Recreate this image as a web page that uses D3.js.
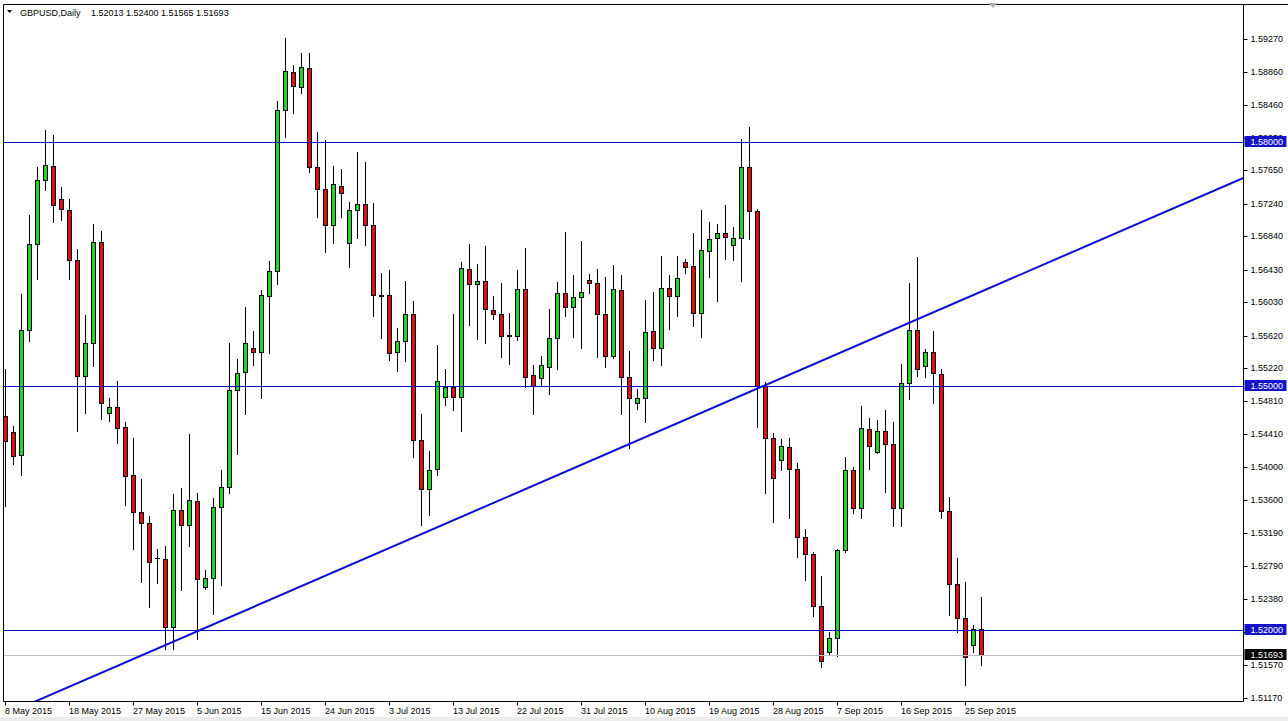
<!DOCTYPE html>
<html><head><meta charset="utf-8">
<script src="https://cdn.jsdelivr.net/npm/d3@7"></script>
<style>
html,body{margin:0;padding:0;background:#fff;overflow:hidden}
svg{display:block}
text{font-family:"Liberation Sans",Arial,sans-serif;font-size:9px}
</style></head><body>
<svg id="c" width="1288" height="721"></svg>
<script>
// ---- data ----
const symbol = "GBPUSD,Daily";
const lastQuote = ["1.52013","1.52400","1.51565","1.51693"];
const opens = [
1.54636,1.54432,1.5415,1.55691,1.56741,1.57532,1.57705,1.57296,1.57168,1.56546,
1.55123,1.55527,1.56768,1.54668,1.54745,1.54496,1.53904,1.53454,1.53318,1.52881,
1.52875,1.52039,1.53473,1.53292,1.53583,1.52525,1.52642,1.53511,1.53754,1.54955,
1.55173,1.55473,1.55416,1.56105,1.56412,1.58389,1.58855,1.58673,1.58906,1.57689,
1.57419,1.5698,1.57463,1.56755,1.5716,1.57234,1.5698,1.56115,1.56115,1.55414,
1.5555,1.55882,1.54336,1.5373,1.53976,1.54868,1.54991,1.54868,1.56439,1.56251,
1.56287,1.55935,1.55889,1.55623,1.55618,1.56189,1.55132,1.55095,1.55237,1.55587,
1.5614,1.55975,1.56098,1.563,1.56263,1.55882,1.55369,1.5618,1.55114,1.54795,
1.54849,1.55673,1.55464,1.56201,1.5611,1.56521,1.56476,1.55901,1.56664,1.56816,
1.56878,1.5673,1.56817,1.57693,1.57157,1.54998,1.54364,1.54088,1.54255,1.53978,
1.53142,1.52935,1.5229,1.51727,1.51903,1.5298,1.53968,1.53499,1.54475,1.54192,
1.5445,1.54283,1.53496,1.55041,1.55685,1.5525,1.55414,1.55148,1.53467,1.52562,
1.52144,1.51815,1.52013];
const highs = [
1.55204,1.54509,1.56128,1.571,1.57692,1.58145,1.58083,1.57446,1.57296,1.56682,
1.55878,1.56991,1.569,1.54855,1.55059,1.54555,1.54364,1.53854,1.534,1.52996,
1.53035,1.53667,1.53749,1.54412,1.5369,1.52734,1.53618,1.53968,1.55527,1.55333,
1.55974,1.55673,1.56178,1.56533,1.58501,1.59278,1.58947,1.59093,1.59095,1.58127,
1.58025,1.57705,1.57668,1.57259,1.57881,1.57758,1.57254,1.56386,1.56426,1.55713,
1.56287,1.56049,1.54656,1.54204,1.55504,1.55205,1.55885,1.56528,1.56746,1.565,
1.56721,1.56107,1.5627,1.55894,1.56426,1.56693,1.55258,1.55369,1.5595,1.56275,
1.5689,1.56365,1.56783,1.56373,1.56439,1.56344,1.56488,1.56365,1.55434,1.54963,
1.56057,1.5616,1.56598,1.56365,1.56598,1.56562,1.56885,1.57164,1.57013,1.56988,
1.57226,1.56959,1.58036,1.58181,1.57178,1.55045,1.54422,1.54352,1.54364,1.54057,
1.53244,1.52958,1.52659,1.51981,1.53002,1.54123,1.54004,1.5476,1.54607,1.54582,
1.54705,1.54554,1.55271,1.5627,1.56583,1.55451,1.5568,1.55209,1.53631,1.52881,
1.52586,1.52061,1.524];
const lows = [
1.53524,1.54036,1.53909,1.55559,1.56318,1.57409,1.57014,1.57046,1.5631,1.54445,
1.54673,1.55241,1.54591,1.54568,1.54295,1.53537,1.52991,1.52591,1.52281,1.52583,
1.51772,1.51772,1.52487,1.53035,1.51893,1.525,1.52195,1.52559,1.53681,1.54168,
1.54653,1.55261,1.54857,1.55401,1.56252,1.58063,1.58354,1.58606,1.57631,1.57074,
1.56651,1.56755,1.57074,1.56467,1.56816,1.56734,1.55864,1.55587,1.55317,1.55188,
1.55311,1.54123,1.53291,1.53414,1.53906,1.54766,1.54705,1.5445,1.5575,1.55578,
1.55525,1.5582,1.5536,1.55271,1.55566,1.54991,1.54652,1.55004,1.54898,1.55205,
1.55861,1.55606,1.55471,1.5614,1.55361,1.55237,1.55341,1.54656,1.54234,1.54713,
1.54561,1.5532,1.55258,1.55701,1.55861,1.56393,1.55738,1.55606,1.56337,1.56049,
1.56562,1.56549,1.5629,1.56805,1.54496,1.53683,1.53331,1.53968,1.53376,1.52892,
1.52619,1.52176,1.51551,1.51705,1.51682,1.5296,1.53441,1.53376,1.53978,1.5418,
1.537,1.53279,1.53279,1.54844,1.55123,1.55107,1.54795,1.53373,1.52184,1.51979,
1.51323,1.51733,1.51565];
const closes = [
1.54319,1.54137,1.55691,1.56741,1.57532,1.57714,1.57228,1.57173,1.56546,1.55123,
1.55527,1.56768,1.54786,1.54745,1.54486,1.53896,1.53454,1.53318,1.52836,1.52885,
1.52039,1.53473,1.53292,1.53593,1.52622,1.52642,1.53511,1.53754,1.54955,1.55159,
1.55523,1.55416,1.5612,1.56412,1.58389,1.58874,1.58685,1.58919,1.57689,1.57419,
1.5698,1.5748,1.57369,1.5716,1.57234,1.5698,1.56115,1.5611,1.55401,1.5555,
1.55882,1.54336,1.5373,1.53967,1.55065,1.54991,1.54868,1.56447,1.56251,1.56287,
1.55943,1.55889,1.55618,1.5562,1.56189,1.55114,1.55004,1.55255,1.55587,1.5614,
1.55975,1.56098,1.56156,1.56263,1.55882,1.55369,1.56193,1.55114,1.54849,1.54849,
1.5566,1.55464,1.56201,1.5611,1.56324,1.56467,1.55901,1.56672,1.56804,1.56878,
1.56836,1.56816,1.57697,1.57157,1.54998,1.54356,1.53864,1.54263,1.53978,1.53142,
1.52935,1.5229,1.51617,1.51903,1.5298,1.53968,1.53499,1.54487,1.54263,1.5445,
1.54283,1.53496,1.55041,1.55685,1.55205,1.55414,1.55156,1.53467,1.52562,1.52144,
1.51671,1.52008,1.51693];
const levels = [1.58, 1.55, 1.52];
const bid = 1.51693;
const trendIdx = [24, 108];
const trendPrice = [1.51986, 1.55566];
const yTicks = [1.59270,1.58860,1.58460,1.58050,1.57650,1.57240,1.56840,1.56430,1.56030,1.55620,
  1.55220,1.54810,1.54410,1.54000,1.53600,1.53190,1.52790,1.52380,1.51980,1.51570,1.51170];
const xTickLabels = ["8 May 2015","18 May 2015","27 May 2015","5 Jun 2015","15 Jun 2015","24 Jun 2015",
  "3 Jul 2015","13 Jul 2015","22 Jul 2015","31 Jul 2015","10 Aug 2015","19 Aug 2015","28 Aug 2015",
  "7 Sep 2015","16 Sep 2015","25 Sep 2015"];

// ---- calendar (daily bars, Sunday sessions included, no Saturdays) ----
const n = opens.length;
const fmt = d3.timeFormat("%-d %b %Y");
const cats = d3.timeDay.range(new Date(2015,4,8), new Date(2015,10,1))
  .filter(d => d.getDay() !== 6).slice(0, n).map(fmt);
const data = cats.map((c,i) => ({c, o:opens[i], h:highs[i], l:lows[i], cl:closes[i]}));

// ---- layout ----
const W = 1288, H = 721;
const P = {l:3.5, t:4.5, r:1243.5, b:701.5};
const svg = d3.select("#c");
const defs = svg.append("defs");
const x = d3.scaleBand().domain(cats).range([1.5, 1.5 + 8*n]);
const cx = c => x(c) + x.bandwidth()/2;
const y = d3.scaleLinear().domain([1.52, 1.58]).range([630, 142]);
const py = v => Math.round(y(v)) + 0.5;

svg.append("rect").attr("width",W).attr("height",H).attr("fill","#fff");
svg.append("rect").attr("x",0).attr("y",717).attr("width",W).attr("height",4).attr("fill","#ececec");

defs.append("clipPath").attr("id","clip")
  .append("rect").attr("x",P.l+0.5).attr("y",P.t+0.5).attr("width",P.r-P.l-1).attr("height",P.b-P.t-1);

const g = svg.append("g").attr("clip-path","url(#clip)");

// candles
const GREEN = "#1fd81f", RED = "#de1212";
g.selectAll("line.wick").data(data).join("line").attr("class","wick")
  .attr("x1", d=>cx(d.c)).attr("x2", d=>cx(d.c))
  .attr("y1", d=>Math.round(y(d.h))).attr("y2", d=>Math.round(y(d.l))+1)
  .attr("stroke","#000").attr("stroke-width",1);
const bodies = data.filter(d => Math.abs(Math.round(y(d.o)) - Math.round(y(d.cl))) >= 1);
const dojis = data.filter(d => Math.abs(Math.round(y(d.o)) - Math.round(y(d.cl))) < 1);
g.selectAll("rect.body").data(bodies).join("rect").attr("class","body")
  .attr("x", d=>cx(d.c)-2).attr("width",4)
  .attr("y", d=>py(Math.max(d.o,d.cl)))
  .attr("height", d=>Math.round(y(Math.min(d.o,d.cl))) - Math.round(y(Math.max(d.o,d.cl))))
  .attr("fill", d=> d.cl >= d.o ? GREEN : RED)
  .attr("stroke","#000").attr("stroke-width",1);
g.selectAll("line.doji").data(dojis).join("line").attr("class","doji")
  .attr("x1", d=>cx(d.c)-2.5).attr("x2", d=>cx(d.c)+2.5)
  .attr("y1", d=>py(d.o)).attr("y2", d=>py(d.o))
  .attr("stroke","#000");

// horizontal levels and bid line
g.selectAll("line.lvl").data(levels).join("line").attr("class","lvl")
  .attr("x1",P.l).attr("x2",P.r).attr("y1",py).attr("y2",py)
  .attr("stroke","#0a0ac0").attr("stroke-width",1);
g.append("line").attr("x1",P.l).attr("x2",P.r).attr("y1",py(bid)).attr("y2",py(bid))
  .attr("stroke","#c0c0c0");

// trend line (extended across the plot)
const xi = d3.scaleLinear().domain([0, n-1]).range([cx(cats[0]), cx(cats[n-1])]);
const slope = (trendPrice[1]-trendPrice[0])/(trendIdx[1]-trendIdx[0]);
const priceAt = i => trendPrice[0] + slope*(i - trendIdx[0]);
const iL = xi.invert(P.l - 20), iR = xi.invert(P.r + 20);
g.append("line").attr("x1",xi(iL)).attr("y1",y(priceAt(iL))).attr("x2",xi(iR)).attr("y2",y(priceAt(iR)))
  .attr("stroke","#0e0ed2").attr("stroke-width",2);

// frame
svg.append("path").attr("d",`M${P.l},${P.b}V${P.t}H${P.r}V${P.b}H${P.l}`)
  .attr("fill","none").attr("stroke","#000");
svg.append("line").attr("x1",P.r).attr("x2",W).attr("y1",P.t).attr("y2",P.t).attr("stroke","#000");

// price label boxes (data)
const boxes = levels.map(v=>({v, fill:"#1414c8"})).concat([{v:bid, fill:"#000"}]);
const boxTop = v => Math.round(y(v)) - 6;
const BOXH = 11;

// right price axis
const ya = d3.axisRight(y).tickValues(yTicks).tickSize(4).tickPadding(3).tickFormat(d3.format(".5f")).offset(0);
const yg = svg.append("g").attr("transform",`translate(${P.r},0)`).call(ya);
yg.select(".domain").remove();
yg.selectAll(".tick").attr("transform", d=>`translate(0,${py(d)})`);
yg.selectAll("text").attr("font-family","Liberation Sans, Arial, sans-serif").attr("font-size",9).attr("fill","#000");
yg.selectAll("line").attr("stroke","#000");
// labels that sit under a price box only show the part outside the box
yg.selectAll(".tick").each(function(d, i){
  const ty = py(d);
  const b = boxes.find(b => Math.abs(Math.round(y(b.v)) - ty) < 10);
  if (!b) return;
  const top = boxTop(b.v), bottom = top + BOXH;
  const id = "tclip" + i;
  const cp = defs.append("clipPath").attr("id", id);
  cp.append("rect").attr("x",0).attr("y",-30).attr("width",60).attr("height",Math.max(0, top - ty + 30));
  cp.append("rect").attr("x",0).attr("y",bottom - ty).attr("width",60).attr("height",30);
  d3.select(this).select("text").attr("clip-path", `url(#${id})`);
});

// bottom time axis
const xa = d3.axisBottom(x).tickValues(xTickLabels).tickSize(4).offset(0);
const xg = svg.append("g").attr("transform",`translate(0,${P.b})`).call(xa);
xg.select(".domain").remove();
xg.selectAll("text").attr("text-anchor","start").attr("x",-0.5).attr("y",6)
  .attr("font-family","Liberation Sans, Arial, sans-serif").attr("font-size",9).attr("fill","#000");
xg.selectAll("line").attr("stroke","#000");

// boxes drawn over the axis
const bg = svg.append("g");
bg.selectAll("rect").data(boxes).join("rect")
  .attr("x",P.r+1).attr("y",d=>boxTop(d.v)).attr("width",42).attr("height",BOXH)
  .attr("fill",d=>d.fill);
bg.selectAll("text").data(boxes).join("text")
  .attr("x",P.r+7).attr("y",d=>Math.round(y(d.v))).attr("dy","0.35em")
  .attr("fill","#fff").text(d=>d.v.toFixed(5));

// title
svg.append("path").attr("d","M7,10H12L9.5,13Z").attr("fill","#000");
svg.append("text").attr("x",20).attr("y",16).attr("fill","#000").text(symbol);
svg.append("text").attr("x",91).attr("y",16).attr("fill","#000").text(lastQuote.join(" "));
// chart shift marker
svg.append("path").attr("d","M988,3H998L993,8Z").attr("fill","#b4b4b4");
</script></body></html>
